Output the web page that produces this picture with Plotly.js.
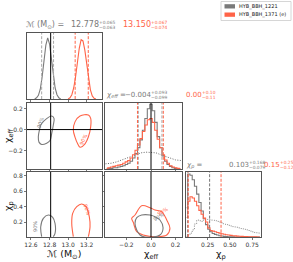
<!DOCTYPE html>
<html><head><meta charset="utf-8">
<script src="https://cdn.plot.ly/plotly-3.0.1.min.js"></script>
<style>html,body{margin:0;padding:0;background:#fff;}#chart{width:293px;height:262px;}</style>
</head><body><div id="chart"></div>
<script>
// ---------- data ----------
const seriesNames = ["HYB_BBH_1221", "HYB_BBH_1371 (e)"];
const mcTruth = 12.812;
const effTruth = 0.0;

// chirp mass 1D histograms
const mcGrayX = [12.64,12.66,12.68,12.70,12.72,12.74,12.76,12.78,12.80,12.82,12.84,12.86,12.88,12.90,12.92];
const mcGrayY = [0,0.02,0.06,0.16,0.36,0.63,0.88,1.0,0.9,0.66,0.39,0.18,0.07,0.02,0];
const mcRedX = [13.00,13.02,13.04,13.06,13.08,13.10,13.12,13.14,13.16,13.18,13.20,13.22,13.24,13.26,13.28,13.30];
const mcRedY = [0,0.02,0.07,0.18,0.36,0.6,0.83,0.97,0.95,0.8,0.56,0.33,0.15,0.05,0.01,0];

// chi_eff 1D histograms
const effX = [-0.36,-0.34,-0.32,-0.30,-0.28,-0.26,-0.24,-0.22,-0.20,-0.18,-0.16,-0.14,-0.12,-0.10,-0.08,-0.06,-0.04,-0.02,0.0,0.02,0.04,0.06,0.08,0.10,0.12,0.14,0.16,0.18,0.20,0.22,0.24];
const effGrayY = [0,0.01,0.01,0.02,0.02,0.03,0.04,0.05,0.07,0.09,0.12,0.17,0.24,0.33,0.45,0.6,0.78,0.93,1.0,0.9,0.72,0.5,0.33,0.2,0.12,0.07,0.04,0.02,0.01,0.005,0];
const effRedY = [0.01,0.02,0.03,0.04,0.05,0.06,0.07,0.09,0.11,0.13,0.17,0.22,0.29,0.37,0.47,0.58,0.68,0.76,0.78,0.72,0.6,0.46,0.33,0.22,0.14,0.09,0.05,0.03,0.02,0.01,0.005];
const effPriorX = [-0.37,-0.32,-0.28,-0.24,-0.20,-0.16,-0.12,-0.08,-0.04,0.0,0.04,0.08,0.12,0.16,0.20,0.25];
const effPriorY = [0.08,0.09,0.11,0.14,0.17,0.2,0.23,0.25,0.26,0.26,0.25,0.22,0.19,0.16,0.14,0.13];

// chi_p 1D histograms
const chipX = [0.0125,0.0375,0.0625,0.0875,0.1125,0.1375,0.1625,0.1875,0.2125,0.2375,0.2625,0.2875,0.3125,0.3375,0.3625,0.3875,0.4125,0.4375,0.4625,0.4875,0.5125,0.5375,0.5625,0.5875,0.6125,0.6375,0.6625,0.6875,0.7125,0.7375,0.7625,0.7875,0.8125,0.8375];
const chipGrayY = [0.45,0.97,0.95,0.88,0.78,0.66,0.53,0.40,0.28,0.19,0.12,0.08,0.055,0.04,0.03,0.02,0.015,0.01,0.007,0.005,0.003,0.002,0.001,0.001,0,0,0,0,0,0,0,0,0,0];
const chipRedY = [0.3,0.55,0.62,0.6,0.55,0.48,0.41,0.35,0.29,0.23,0.14,0.1,0.09,0.08,0.07,0.06,0.05,0.042,0.035,0.03,0.025,0.02,0.017,0.014,0.012,0.01,0.008,0.006,0.005,0.004,0.003,0.002,0.001,0];
const chipPriorY = [0.01,0.03,0.06,0.11,0.2,0.26,0.25,0.24,0.26,0.27,0.27,0.26,0.26,0.25,0.24,0.23,0.22,0.2,0.19,0.18,0.17,0.16,0.155,0.15,0.14,0.13,0.12,0.11,0.1,0.09,0.08,0.07,0.065,0.06];

// 90% credible contours
const bGrayMc  = [12.823,12.715,12.690,12.679,12.686,12.715,12.769,12.805,12.823,12.840,12.848,12.823];
const bGrayEff = [0.128,0.058,-0.007,-0.071,-0.119,-0.141,-0.129,-0.103,-0.038,0.041,0.106,0.128];
const bRedMc   = [13.218,13.128,13.074,13.056,13.074,13.103,13.128,13.182,13.218,13.243,13.243,13.218];
const bRedEff  = [0.138,0.128,0.073,-0.007,-0.071,-0.135,-0.167,-0.135,-0.071,0.025,0.106,0.138];
const dGrayMc  = [12.715,12.705,12.733,12.787,12.834,12.859,12.859,12.840];
const dGrayChp = [0.009,0.139,0.248,0.291,0.261,0.183,0.053,0.009];
const dRedMc   = [13.056,13.039,13.049,13.093,13.146,13.193,13.228,13.236,13.218];
const dRedChp  = [0.009,0.183,0.313,0.399,0.434,0.399,0.269,0.139,0.009];
const eRedEff  = [-0.144,-0.157,-0.130,-0.076,-0.008,0.033,0.087,0.128,0.154,0.128,0.046,-0.063,-0.116,-0.144];
const eRedChp  = [0.196,0.248,0.291,0.412,0.386,0.356,0.334,0.226,0.118,0.031,0.009,0.031,0.074,0.196];
const eGrayEff = [-0.076,-0.116,-0.130,-0.116,-0.089,-0.049,0.073,0.098,0.073,0.033,-0.008,-0.076];
const eGrayChp = [0.291,0.256,0.183,0.096,0.031,0.005,0.031,0.122,0.226,0.269,0.291,0.291];

// credible-interval bounds (dashed)
const mcQGray = [12.715, 12.843], mcQRed = [13.076, 13.217];
const effQGray = [-0.103, 0.089], effQRed = [-0.11, 0.10];
const chipQGray = [0.024, 0.271], chipQRed = [0.03, 0.40];

// ticks
const mcTicks = [12.6, 12.8, 13.0, 13.2], mcTickText = ["12.6","12.8","13.0","13.2"];
const effTicks = [-0.2, 0.0, 0.2], effTickText = ["\u22120.2","0.0","0.2"];
const chipYTicks = [0.2,0.4,0.6,0.8], chipYText = ["0.2","0.4","0.6","0.8"];
const chipXTicks = [0.25,0.5,0.75], chipXText = ["0.25","0.50","0.75"];

// ---------- style ----------
const GRAY = '#7a7a7a', RED = '#ff6347', LGRAY = '#a8a8a8', FRAME = '#555';
const FONT = 'DejaVu Sans';
const W = 293, H = 262;
const px = v => v / W, py = v => 1 - v / H;
const mcRange = [12.557, 13.365], effRange = [-0.374, 0.252], chipRange = [0.005, 0.85];
const col = [[px(27), px(102)], [px(105), px(182)], [px(186), px(261)]];
const row = [[py(99), py(33)], [py(169), py(103)], [py(237), py(172)]];

function line(x, y, xa, ya, color, extra) {
  return Object.assign({x, y, xaxis: xa, yaxis: ya, type: 'scatter', mode: 'lines',
    line: {color, width: 1.1}, hoverinfo: 'skip', showlegend: false}, extra || {});
}
const traces = [
  line(mcGrayX, mcGrayY, 'x', 'y', GRAY),
  line(mcRedX, mcRedY, 'x', 'y', RED),
  line(bGrayMc, bGrayEff, 'x2', 'y2', GRAY, {line: {color: GRAY, width: 1.1, shape: 'spline'}}),
  line(bRedMc, bRedEff, 'x2', 'y2', RED, {line: {color: RED, width: 1.1, shape: 'spline'}}),
  line(effPriorX, effPriorY, 'x3', 'y3', '#444', {line: {color: '#444', width: 0.8, dash: '1px,1.5px'}}),
  line(effX, effGrayY, 'x3', 'y3', GRAY, {line: {color: GRAY, width: 1.1, shape: 'hvh'}}),
  line(effX, effRedY, 'x3', 'y3', RED, {line: {color: RED, width: 1.1, shape: 'hvh'}}),
  line(dGrayMc, dGrayChp, 'x4', 'y4', GRAY, {line: {color: GRAY, width: 1.1, shape: 'spline'}}),
  line(dRedMc, dRedChp, 'x4', 'y4', RED, {line: {color: RED, width: 1.1, shape: 'spline'}}),
  line(eRedEff, eRedChp, 'x5', 'y5', RED, {line: {color: RED, width: 1.1, shape: 'spline'}}),
  line(eGrayEff, eGrayChp, 'x5', 'y5', GRAY, {line: {color: GRAY, width: 1.1, shape: 'spline'}}),
  line(chipX, chipPriorY, 'x6', 'y6', '#666', {line: {color: '#666', width: 0.8, dash: '1px,1.5px', shape: 'hvh'}}),
  line(chipX, chipGrayY, 'x6', 'y6', GRAY, {line: {color: GRAY, width: 1.1, shape: 'hvh'}}),
  line(chipX, chipRedY, 'x6', 'y6', RED, {line: {color: RED, width: 1.1, shape: 'hvh'}})
];

function ax(domain, range, anchor, o) {
  return Object.assign({domain, range, anchor, showgrid: false, zeroline: false,
    showline: true, mirror: true, linecolor: FRAME, linewidth: 1,
    ticks: 'outside', ticklen: 2, tickwidth: 0.8, tickcolor: FRAME,
    tickfont: {size: 6, color: '#333', family: FONT}, showticklabels: false, fixedrange: true}, o || {});
}
const layout = {
  width: W, height: H, margin: {l: 0, r: 0, t: 0, b: 0},
  paper_bgcolor: '#fff', plot_bgcolor: '#fff', showlegend: false,
  font: {family: FONT, size: 6, color: '#333'},
  xaxis:  ax(col[0], mcRange, 'y', {tickvals: mcTicks}),
  yaxis:  ax(row[0], [0, 1.08], 'x', {ticks: '', showticklabels: false}),
  xaxis2: ax(col[0], mcRange, 'y2', {tickvals: mcTicks}),
  yaxis2: ax(row[1], effRange, 'x2', {tickvals: effTicks, ticktext: effTickText, showticklabels: true}),
  xaxis3: ax(col[1], effRange, 'y3', {tickvals: effTicks}),
  yaxis3: ax(row[1], [0, 1.02], 'x3', {ticks: ''}),
  xaxis4: ax(col[0], mcRange, 'y4', {tickvals: mcTicks, ticktext: mcTickText, showticklabels: true}),
  yaxis4: ax(row[2], chipRange, 'x4', {tickvals: chipYTicks, ticktext: chipYText, showticklabels: true}),
  xaxis5: ax(col[1], effRange, 'y5', {tickvals: effTicks, ticktext: effTickText, showticklabels: true}),
  yaxis5: ax(row[2], chipRange, 'x5', {tickvals: chipYTicks}),
  xaxis6: ax(col[2], chipRange, 'y6', {tickvals: chipXTicks, ticktext: chipXText, showticklabels: true}),
  yaxis6: ax(row[2], [0, 1.0], 'x6', {ticks: ''}),
  shapes: [], annotations: []
};
function vline(x, xa, ya, color, dash, w) {
  layout.shapes.push({type: 'line', xref: xa, yref: ya + ' domain', x0: x, x1: x, y0: 0, y1: 1,
    line: {color, width: w || 1, dash: dash || 'solid'}});
}
function hline(y, xa, ya, color) {
  layout.shapes.push({type: 'line', xref: xa + ' domain', yref: ya, x0: 0, x1: 1, y0: y, y1: y,
    line: {color, width: 1}});
}
const DASH = '3px,1.6px';
mcQGray.forEach(v => vline(v, 'x', 'y', LGRAY, DASH));
mcQRed.forEach(v => vline(v, 'x', 'y', RED, DASH));
effQGray.forEach(v => vline(v, 'x3', 'y3', LGRAY, DASH));
effQRed.forEach(v => vline(v, 'x3', 'y3', RED, DASH));
chipQGray.forEach(v => vline(v, 'x6', 'y6', '#777', DASH));
chipQRed.forEach(v => vline(v, 'x6', 'y6', RED, DASH));
vline(mcTruth, 'x', 'y', '#000', 'solid', 1);
vline(mcTruth, 'x2', 'y2', '#000', 'solid', 1);
hline(effTruth, 'x2', 'y2', '#000');
vline(effTruth, 'x3', 'y3', '#000', 'solid', 1);
vline(mcTruth, 'x4', 'y4', '#000', 'solid', 1);
vline(effTruth, 'x5', 'y5', '#000', 'solid', 1);

function txt(text, x, y, o) {
  layout.annotations.push(Object.assign({text, x: px(x), y: py(y), xref: 'paper', yref: 'paper',
    showarrow: false, xanchor: 'left', yanchor: 'middle', borderpad: 0, borderwidth: 0,
    font: {family: FONT, size: 8, color: GRAY}}, o || {}));
}
const SUP = 4.4;
function title(label, xl, g, gp, gm, xg, r, rp, rm, xr, yc, nf) {
  txt(label + ' =', xl, yc, {font: {family: FONT, size: nf, color: GRAY}});
  txt(g, xg, yc, {xanchor: 'right', font: {family: FONT, size: nf, color: GRAY}});
  txt('+' + gp, xg + 0.4, yc - 2.7, {font: {family: FONT, size: SUP, color: GRAY}});
  txt('\u2212' + gm, xg + 0.4, yc + 2.7, {font: {family: FONT, size: SUP, color: GRAY}});
  txt(r, xr, yc, {xanchor: 'right', font: {family: FONT, size: nf, color: RED}});
  txt('+' + rp, xr + 0.4, yc - 2.7, {font: {family: FONT, size: SUP, color: RED}});
  txt('\u2212' + rm, xr + 0.4, yc + 2.7, {font: {family: FONT, size: SUP, color: RED}});
}
title('\u2133 (M<sub>\u2299</sub>)', 26, '12.778', '0.065', '0.063', 99, '13.150', '0.067', '0.074', 150.5, 25, 8);
title('<i>\u03c7<sub>eff</sub></i>', 106, '\u22120.004', '0.093', '0.099', 150.5, '0.00', '0.10', '0.11', 201.5, 95, 7);
title('<i>\u03c7<sub>p</sub></i>', 186, '0.103', '0.168', '0.079', 248.5, '0.15', '0.25', '0.12', 279.5, 165, 7);

// axis labels
const LBL = {family: FONT, size: 9.5, color: '#111'};
txt('\u03c7<sub>eff</sub>', 8, 136, {xanchor: 'center', textangle: -90, font: LBL});
txt('\u03c7<sub>p</sub>', 8, 206, {xanchor: 'center', textangle: -90, font: LBL});
txt('\u2133 (M<sub>\u2299</sub>)', 64, 254, {xanchor: 'center', font: LBL});
txt('\u03c7<sub>eff</sub>', 151, 254, {xanchor: 'center', font: LBL});
txt('\u03c7<sub>p</sub>', 221, 254, {xanchor: 'center', font: LBL});

// contour labels
const CL = c => ({family: FONT, size: 5, color: c});
txt('90%', 40, 123, {xanchor: 'center', textangle: -70, font: CL(GRAY)});
txt('90%', 83, 140, {xanchor: 'center', textangle: -65, font: CL(RED)});
txt('90%', 35, 227, {xanchor: 'center', textangle: -90, font: CL(GRAY)});
txt('90%', 87, 209, {xanchor: 'center', textangle: 70, font: CL(RED)});
txt('90%', 163, 211, {xanchor: 'center', textangle: -30, font: CL(RED)});
txt('90%', 158, 217, {xanchor: 'center', textangle: -30, font: CL(GRAY)});

// legend
layout.shapes.push({type: 'rect', xref: 'paper', yref: 'paper', x0: px(221), x1: px(291), y0: py(20.5), y1: py(1.5),
  line: {color: '#ccc', width: 0.8}, fillcolor: 'rgba(255,255,255,0.8)'});
layout.shapes.push({type: 'rect', xref: 'paper', yref: 'paper', x0: px(224.5), x1: px(235), y0: py(8.5), y1: py(4.2),
  line: {width: 0}, fillcolor: GRAY});
layout.shapes.push({type: 'rect', xref: 'paper', yref: 'paper', x0: px(224.5), x1: px(235), y0: py(16.8), y1: py(12.5),
  line: {width: 0}, fillcolor: RED});
txt(seriesNames[0], 239, 6.4, {font: {family: FONT, size: 5, color: '#222'}});
txt(seriesNames[1], 239, 14.7, {font: {family: FONT, size: 5, color: '#222'}});

Plotly.newPlot('chart', traces, layout, {staticPlot: true, displayModeBar: false});
</script></body></html>
